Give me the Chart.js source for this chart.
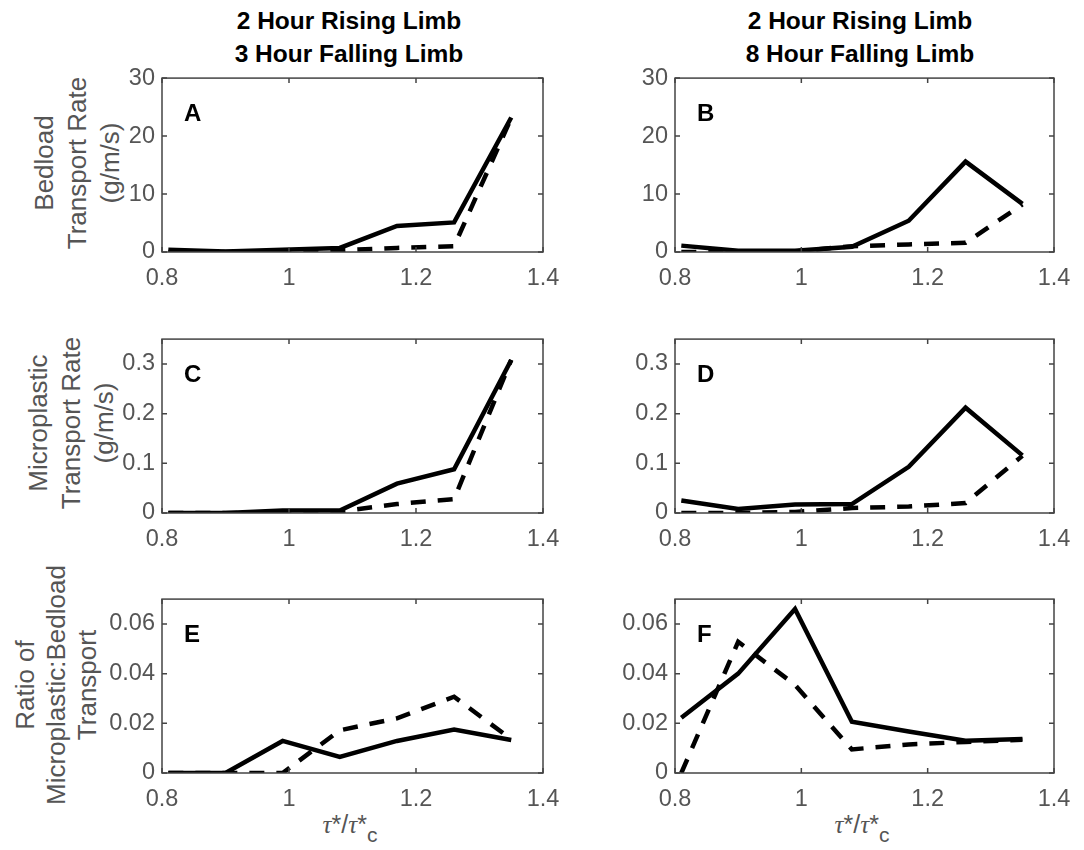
<!DOCTYPE html>
<html>
<head>
<meta charset="utf-8">
<script src="https://cdn.jsdelivr.net/npm/chart.js@4.4.1/dist/chart.umd.min.js"></script>
<style>
  body { margin: 0; background: #fff; }
  #wrap { position: relative; width: 1084px; height: 850px; font-family: "Liberation Sans", Arial, sans-serif; }
  canvas { position: absolute; }
  .title { position: absolute; font-weight: bold; font-size: 24.5px; color: #000; text-align: center; line-height: 33px; transform: translateX(-50%); white-space: nowrap; }
  .ylab { position: absolute; font-size: 26px; color: #555; text-align: center; white-space: nowrap; transform: translate(-50%, -50%) rotate(-90deg); }
  .xlab { position: absolute; font-size: 25px; color: #555; transform: translateX(-50%); white-space: nowrap; }
  .xlab i { font-family: "Liberation Serif", serif; }
  .xlab sub { font-size: 21px; font-family: "Liberation Sans", Arial, sans-serif; position: relative; top: 3px; }
</style>
</head>
<body>
<div id="wrap">
  <div class="title" style="left:349px; top:4px;">2 Hour Rising Limb<br>3 Hour Falling Limb</div>
  <div class="title" style="left:860px; top:4px;">2 Hour Rising Limb<br>8 Hour Falling Limb</div>

  <div class="ylab" style="left:77px; top:163px; line-height:33px;">Bedload<br>Transport Rate<br>(g/m/s)</div>
  <div class="ylab" style="left:71px; top:423px; line-height:33px;">Microplastic<br>Transport Rate<br>(g/m/s)</div>
  <div class="ylab" style="left:56px; top:685px; line-height:31px;">Ratio of<br>Microplastic:Bedload<br>Transport</div>

  <div class="xlab" style="left:350px; top:810px;"><i>τ</i>*/<i>τ</i>*<sub>c</sub></div>
  <div class="xlab" style="left:862px; top:810px;"><i>τ</i>*/<i>τ</i>*<sub>c</sub></div>

  <canvas id="cA"></canvas>
  <canvas id="cB"></canvas>
  <canvas id="cC"></canvas>
  <canvas id="cD"></canvas>
  <canvas id="cE"></canvas>
  <canvas id="cF"></canvas>
</div>

<script>
// shear stress ratio tau*/tau*c for each run
const xVals = [0.81, 0.90, 0.99, 1.08, 1.17, 1.26, 1.35];
const xTicks = [0.8, 1, 1.2, 1.4];

// bedload transport rate (g/m/s)
const bedload3hSolid = [0.4, 0.1, 0.4, 0.7, 4.5, 5.1, 23.2];
const bedload3hDashed = [0, 0, 0.1, 0.3, 0.7, 1.0, 23.1];
const bedload8hSolid = [1.1, 0.2, 0.2, 0.9, 5.4, 15.6, 8.3];
const bedload8hDashed = [0, 0, 0.1, 1.0, 1.3, 1.6, 8.2];
const bedloadTicks = [0, 10, 20, 30];

// microplastic transport rate (g/m/s)
const micro3hSolid = [0, 0, 0.005, 0.005, 0.059, 0.088, 0.308];
const micro3hDashed = [0, 0, 0, 0.003, 0.018, 0.028, 0.308];
const micro8hSolid = [0.025, 0.008, 0.017, 0.018, 0.093, 0.212, 0.116];
const micro8hDashed = [0, 0, 0.002, 0.010, 0.013, 0.020, 0.115];
const microTicks = [0, 0.1, 0.2, 0.3];

// ratio of microplastic to bedload transport
const ratio3hSolid = [0, 0, 0.0129, 0.0065, 0.0129, 0.0175, 0.0133];
const ratio3hDashed = [0, 0, 0, 0.0172, 0.022, 0.0307, 0.0136];
const ratio8hSolid = [0.0222, 0.040, 0.066, 0.0206, 0.0167, 0.013, 0.0137];
const ratio8hDashed = [0, 0.0528, 0.0355, 0.0095, 0.0115, 0.0125, 0.0134];
const ratioTicks = [0, 0.02, 0.04, 0.06];

const AXIS_W = 70, PAD_TOP = 15, PAD_RIGHT = 30, AXIS_H = 45;
const tickColor = '#555';
const frameColor = '#444';
const tickFont = { size: 23.5, family: '"Liberation Sans", Arial, sans-serif' };

// frame with inward ticks on all four sides, plus the panel letter
const boxPlugin = {
  id: 'box',
  afterDraw(chart) {
    const ctx = chart.ctx, a = chart.chartArea;
    const xs = chart.scales.x, ys = chart.scales.y;
    ctx.save();
    ctx.strokeStyle = frameColor;
    ctx.lineWidth = 1.5;
    ctx.strokeRect(a.left, a.top, a.right - a.left, a.bottom - a.top);
    ctx.beginPath();
    xs.ticks.forEach(t => {
      const px = xs.getPixelForValue(t.value);
      ctx.moveTo(px, a.bottom); ctx.lineTo(px, a.bottom - 5);
      ctx.moveTo(px, a.top); ctx.lineTo(px, a.top + 5);
    });
    ys.ticks.forEach(t => {
      const py = ys.getPixelForValue(t.value);
      ctx.moveTo(a.left, py); ctx.lineTo(a.left + 5, py);
      ctx.moveTo(a.right, py); ctx.lineTo(a.right - 5, py);
    });
    ctx.stroke();
    const letter = chart.options.plugins.box.letter;
    ctx.fillStyle = '#000';
    ctx.font = 'bold 24px "Liberation Sans", Arial, sans-serif';
    ctx.textBaseline = 'alphabetic';
    ctx.fillText(letter, a.left + 22, a.top + 43);
    ctx.restore();
  }
};

function makePanel(id, left, top, width, height, yTicks, yMax, solid, dashed, letter) {
  const cv = document.getElementById(id);
  cv.width = AXIS_W + width + PAD_RIGHT;
  cv.height = PAD_TOP + height + AXIS_H;
  cv.style.left = (left - AXIS_W) + 'px';
  cv.style.top = (top - PAD_TOP) + 'px';

  const pts = vals => xVals.map((x, i) => ({ x: x, y: vals[i] }));
  const fmt = v => String(+v.toFixed(3));

  new Chart(cv.getContext('2d'), {
    type: 'line',
    data: {
      datasets: [
        { data: pts(solid), borderColor: '#000', borderWidth: 4.5, pointRadius: 0, tension: 0, fill: false },
        { data: pts(dashed), borderColor: '#000', borderWidth: 4.5, borderDash: [15, 12], pointRadius: 0, tension: 0, fill: false }
      ]
    },
    options: {
      responsive: false,
      animation: false,
      layout: { padding: { top: PAD_TOP, right: PAD_RIGHT, left: 0, bottom: 0 } },
      plugins: { legend: { display: false }, tooltip: { enabled: false }, box: { letter: letter } },
      scales: {
        x: {
          type: 'linear', min: 0.8, max: 1.4,
          grid: { display: false, drawTicks: false }, border: { display: false },
          afterBuildTicks: s => { s.ticks = xTicks.map(v => ({ value: v })); },
          afterFit: s => { s.height = AXIS_H; },
          ticks: { color: tickColor, font: tickFont, padding: 12, maxRotation: 0, callback: fmt }
        },
        y: {
          type: 'linear', min: 0, max: yMax,
          grid: { display: false, drawTicks: false }, border: { display: false },
          afterBuildTicks: s => { s.ticks = yTicks.map(v => ({ value: v })); },
          afterFit: s => { s.width = AXIS_W; },
          ticks: { color: tickColor, font: tickFont, padding: 7, callback: fmt }
        }
      }
    },
    plugins: [boxPlugin]
  });
}

makePanel('cA', 162, 72, 381, 180, bedloadTicks, 30, bedload3hSolid, bedload3hDashed, 'A');
makePanel('cB', 675, 72, 379, 180, bedloadTicks, 30, bedload8hSolid, bedload8hDashed, 'B');
makePanel('cC', 162, 333, 381, 180, microTicks, 0.35, micro3hSolid, micro3hDashed, 'C');
makePanel('cD', 675, 333, 379, 180, microTicks, 0.35, micro8hSolid, micro8hDashed, 'D');
makePanel('cE', 162, 593, 381, 180, ratioTicks, 0.07, ratio3hSolid, ratio3hDashed, 'E');
makePanel('cF', 675, 593, 379, 180, ratioTicks, 0.07, ratio8hSolid, ratio8hDashed, 'F');
</script>
</body>
</html>
